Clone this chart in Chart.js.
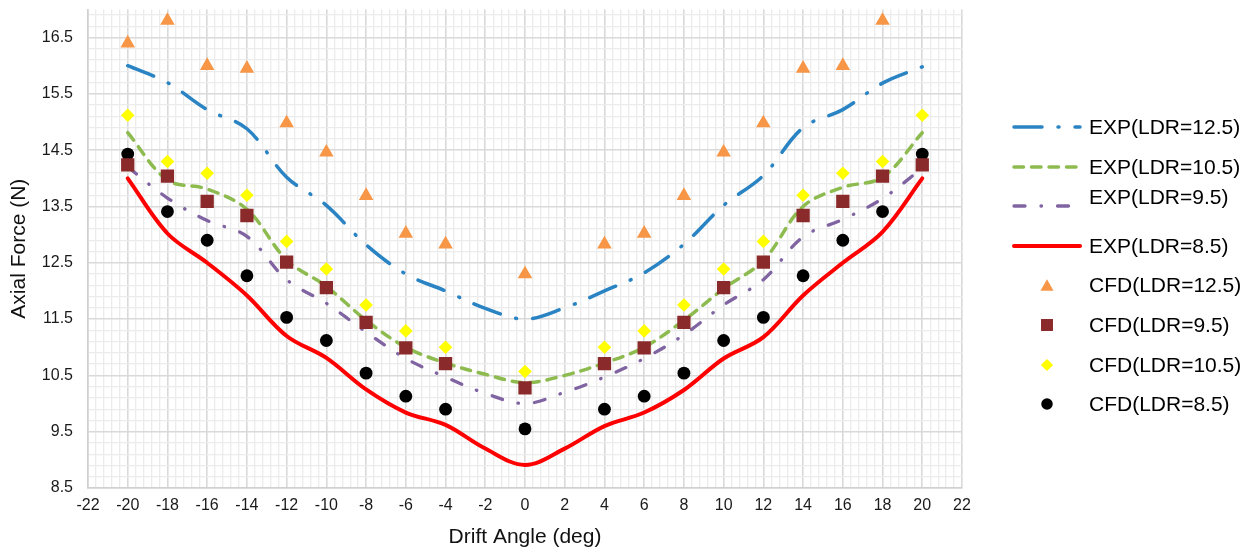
<!DOCTYPE html>
<html>
<head>
<meta charset="utf-8">
<title>Axial Force vs Drift Angle</title>
<script src="https://cdn.jsdelivr.net/npm/chart.js@4.4.1/dist/chart.umd.min.js"></script>
<style>
  html, body { margin: 0; padding: 0; background: #fff; }
  #wrap { position: relative; width: 1255px; height: 553px; }
  #chart { display: block; }
  .lg-sample { position: absolute; left: 1008px; width: 80px; height: 20px; }
  .lg-text {
    position: absolute; left: 1089px; height: 24px; line-height: 24px;
    font-family: "Liberation Sans", Arial, sans-serif; font-size: 21px; color: #000;
    white-space: nowrap;
  }
</style>
</head>
<body>
<div id="wrap">
  <canvas id="chart" width="1255" height="553"></canvas>
</div>
<script>
// Drift angles (deg)
const expAngles = [-20, -18, -16, -14, -12, -10, -8, -6, -4, -2, 0, 2, 4, 6, 8, 10, 12, 14, 16, 18, 20];
const cfdAngles = [-20, -18, -16, -14, -12, -10, -8, -6, -4, 0, 4, 6, 8, 10, 12, 14, 16, 18, 20];

// Experiment (lines), axial force N
const expLdr125 = [16.0, 15.7, 15.22, 14.88, 14.02, 13.52, 12.82, 12.3, 12.0, 11.69, 11.5, 11.7, 12.0, 12.32, 12.83, 13.52, 14.05, 14.9, 15.22, 15.69, 15.98];
const expLdr105 = [14.81, 13.97, 13.81, 13.45, 12.55, 12.08, 11.48, 11.0, 10.72, 10.52, 10.37, 10.5, 10.72, 11.0, 11.48, 12.04, 12.54, 13.5, 13.84, 14.02, 14.81];
const expLdr95 = [14.2, 13.65, 13.25, 12.97, 12.2, 11.78, 11.27, 10.8, 10.47, 10.18, 10.0, 10.2, 10.47, 10.8, 11.22, 11.75, 12.2, 12.96, 13.27, 13.64, 14.18];
const expLdr85 = [14.0, 13.02, 12.5, 11.92, 11.2, 10.81, 10.25, 9.84, 9.62, 9.2, 8.91, 9.2, 9.6, 9.84, 10.24, 10.8, 11.18, 11.92, 12.5, 13.05, 14.0];

// CFD (markers)
const cfdLdr125 = [16.4, 16.8, 16.0, 15.95, 14.98, 14.46, 13.69, 13.02, 12.83, 12.3, 12.83, 13.02, 13.69, 14.46, 14.98, 15.95, 16.0, 16.8, null];
const cfdLdr95 = [14.24, 14.04, 13.59, 13.34, 12.51, 12.06, 11.44, 10.99, 10.71, 10.28, 10.71, 10.99, 11.44, 12.06, 12.51, 13.34, 13.59, 14.04, 14.24];
const cfdLdr105 = [15.12, 14.3, 14.09, 13.7, 12.88, 12.39, 11.75, 11.29, 11.0, 10.57, 11.0, 11.29, 11.75, 12.39, 12.88, 13.7, 14.09, 14.3, 15.12];
const cfdLdr85 = [14.43, 13.41, 12.9, 12.27, 11.53, 11.12, 10.54, 10.13, 9.9, 9.55, 9.9, 10.13, 10.54, 11.12, 11.53, 12.27, 12.9, 13.41, 14.43];

// Axis tick labels
const xMajorTicks = [-22, -20, -18, -16, -14, -12, -10, -8, -6, -4, -2, 0, 2, 4, 6, 8, 10, 12, 14, 16, 18, 20, 22];
const yMajorTicks = [8.5, 9.5, 10.5, 11.5, 12.5, 13.5, 14.5, 15.5, 16.5];

const FONT = '"Liberation Sans", Arial, sans-serif';

// line series styles
const lineSeries = [
  { label: "EXP(LDR=12.5)", data: expLdr125, color: "#2A84C4", width: 3.5, dash: [28, 16, 1, 16] },
  { label: "EXP(LDR=10.5)", data: expLdr105, color: "#8DBB4F", width: 3.5, dash: [9.5, 8] },
  { label: "EXP(LDR=9.5)", data: expLdr95, color: "#8064A2", width: 3.3, dash: [11, 16, 0.5, 16] },
  { label: "EXP(LDR=8.5)", data: expLdr85, color: "#FF0000", width: 4, dash: [] },
];
// marker series styles
const markerSeries = [
  { label: "CFD(LDR=12.5)", data: cfdLdr125, color: "#F79646", shape: "triangle", r: 8.4 },
  { label: "CFD(LDR=9.5)", data: cfdLdr95, color: "#8B2A2A", shape: "rect", r: 9.4 },
  { label: "CFD(LDR=10.5)", data: cfdLdr105, color: "#FFFF00", shape: "rectRot", r: 6.8 },
  { label: "CFD(LDR=8.5)", data: cfdLdr85, color: "#000000", shape: "circle", r: 6.4 },
];

function toPoints(xs, ys) {
  return xs.map((x, i) => ({ x: x, y: ys[i] }));
}

const datasets = [];
lineSeries.forEach((s) => {
  datasets.push({
    label: s.label,
    data: toPoints(expAngles, s.data),
    showLine: true,
    borderColor: s.color,
    backgroundColor: s.color,
    borderWidth: s.width,
    borderDash: s.dash,
    borderCapStyle: "round",
    tension: 0.35,
    pointRadius: 0,
    order: 2,
  });
});
markerSeries.forEach((s) => {
  datasets.push({
    label: s.label,
    data: toPoints(cfdAngles, s.data),
    showLine: false,
    pointStyle: s.shape,
    pointRadius: s.r,
    backgroundColor: s.color,
    borderColor: s.color,
    borderWidth: 0,
    order: 1,
  });
});

// grid: major + minor lines
function buildTicks(min, max, step) {
  const out = [];
  for (let v = min; v <= max + 1e-9; v += step) {
    out.push({ value: Math.round(v * 100) / 100 });
  }
  return out;
}
function isMajor(list, v) {
  return list.some((m) => Math.abs(m - v) < 1e-6);
}

const ctx = document.getElementById("chart").getContext("2d");
const chart = new Chart(ctx, {
  type: "scatter",
  data: { datasets: datasets },
  options: {
    responsive: false,
    animation: false,
    layout: { padding: { top: 8, right: 293, left: 0, bottom: 0 } },
    plugins: {
      legend: { display: false },
      tooltip: { enabled: false },
    },
    scales: {
      x: {
        type: "linear",
        min: -22,
        max: 22,
        afterBuildTicks: (axis) => { axis.ticks = buildTicks(-22, 22, 0.4); },
        afterFit: (axis) => { axis.height = 65; },
        ticks: {
          autoSkip: false,
          maxRotation: 0,
          minRotation: 0,
          padding: 8,
          color: "#1a1a1a",
          font: { family: FONT, size: 16 },
          callback: (v) => (isMajor(xMajorTicks, v) ? String(v) : ""),
        },
        grid: {
          drawTicks: false,
          color: (c) => (isMajor(xMajorTicks, c.tick.value) ? "#D9D9D9" : "#ECECEC"),
          lineWidth: (c) => (isMajor(xMajorTicks, c.tick.value) ? 1.6 : 1.3),
        },
        border: { color: "#D0D0D0", width: 1.6 },
        title: {
          display: true,
          text: "Drift Angle (deg)",
          color: "#111",
          font: { family: FONT, size: 21 },
          padding: { top: 0, bottom: 3 },
        },
      },
      y: {
        type: "linear",
        min: 8.5,
        max: 17,
        afterBuildTicks: (axis) => { axis.ticks = buildTicks(8.5, 16.9, 0.2); },
        afterFit: (axis) => {
          axis.width = 88;
          axis.paddingTop = 0;
          axis.paddingBottom = 0;
        },
        ticks: {
          autoSkip: false,
          padding: 15,
          color: "#1a1a1a",
          font: { family: FONT, size: 16 },
          callback: (v) => (isMajor(yMajorTicks, v) ? String(v) : ""),
        },
        grid: {
          drawTicks: false,
          color: (c) => (isMajor(yMajorTicks, c.tick.value) ? "#D9D9D9" : "#ECECEC"),
          lineWidth: (c) => (isMajor(yMajorTicks, c.tick.value) ? 1.6 : 1.3),
        },
        border: { color: "#D0D0D0", width: 1.6 },
        title: {
          display: true,
          text: "Axial Force (N)",
          color: "#111",
          font: { family: FONT, size: 21 },
          padding: { top: 7, bottom: 0 },
        },
      },
    },
  },
});

// legend on the right
const wrap = document.getElementById("wrap");
const rowTop = 127;
const rowStep = 39.6;
const svgNS = "http://www.w3.org/2000/svg";

function markerSvg(s) {
  const cx = 39, cy = 10, r = s.r * 0.9;
  if (s.shape === "triangle") {
    const h = r * 0.866;
    const y0 = cy + r / 4;
    return '<polygon points="' + cx + "," + (y0 - r) + " " + (cx + h) + "," + (y0 + r / 2) + " " + (cx - h) + "," + (y0 + r / 2) + '" fill="' + s.color + '"/>';
  }
  if (s.shape === "rect") {
    const a = r * Math.SQRT1_2;
    return '<rect x="' + (cx - a) + '" y="' + (cy - a) + '" width="' + 2 * a + '" height="' + 2 * a + '" fill="' + s.color + '"/>';
  }
  if (s.shape === "rectRot") {
    return '<polygon points="' + cx + "," + (cy - r) + " " + (cx + r) + "," + cy + " " + cx + "," + (cy + r) + " " + (cx - r) + "," + cy + '" fill="' + s.color + '"/>';
  }
  return '<circle cx="' + cx + '" cy="' + cy + '" r="' + r + '" fill="' + s.color + '"/>';
}

lineSeries.concat(markerSeries).forEach((s, i) => {
  const cy = rowTop + i * rowStep;
  const svg = document.createElementNS(svgNS, "svg");
  svg.setAttribute("class", "lg-sample");
  svg.setAttribute("width", "80");
  svg.setAttribute("height", "20");
  svg.style.top = (cy - 10) + "px";
  if (s.shape) {
    svg.innerHTML = markerSvg(s);
  } else {
    svg.innerHTML = '<line x1="6" y1="10" x2="72" y2="10" stroke="' + s.color + '" stroke-width="' + s.width +
      '" stroke-linecap="round" stroke-dasharray="' + (s.dash.length ? s.dash.join(" ") : "none") + '"/>';
  }
  wrap.appendChild(svg);

  const txt = document.createElement("div");
  txt.className = "lg-text";
  txt.textContent = s.label;
  // the 9.5 entry sits a little above its line sample in the original
  const shift = s.label === "EXP(LDR=9.5)" ? -9 : 0;
  txt.style.top = (cy - 12 + shift) + "px";
  wrap.appendChild(txt);
});
</script>
</body>
</html>
